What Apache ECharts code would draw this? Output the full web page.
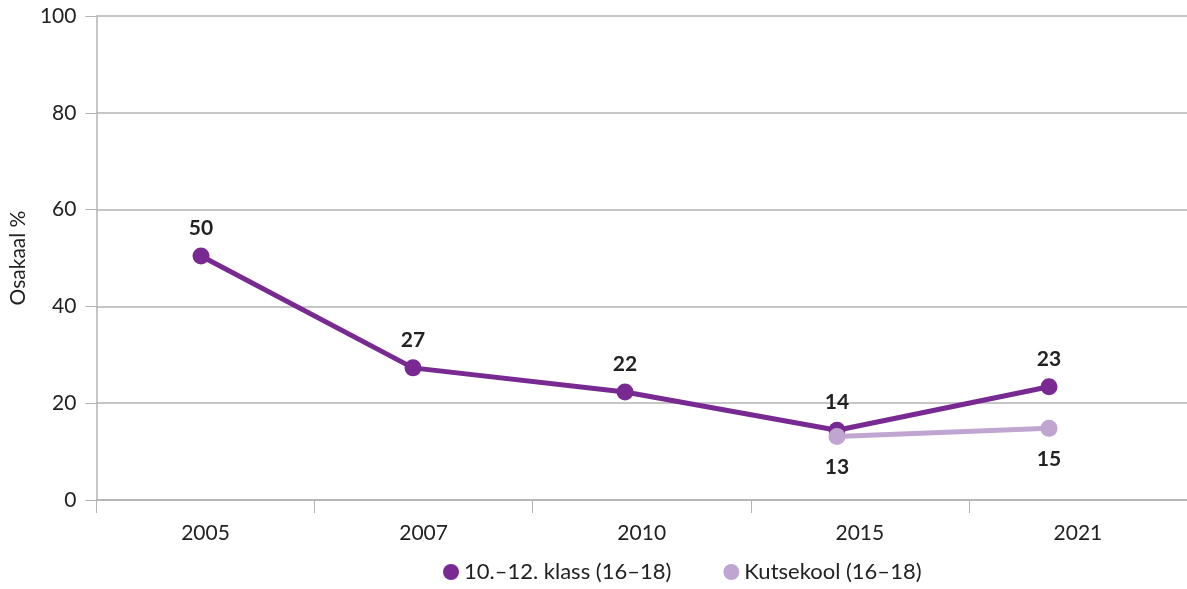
<!DOCTYPE html>
<html>
<head>
<meta charset="utf-8">
<script src="https://cdn.jsdelivr.net/npm/echarts@6/dist/echarts.min.js"></script>
<style>html,body{margin:0;padding:0;background:#fff;}#c{width:1187px;height:589px;}</style>
</head>
<body>
<div id="c"></div>
<script>
const categories = ['2005', '2007', '2010', '2015', '2021'];
const seriesNames = ['10.–12. klass (16–18)', 'Kutsekool (16–18)'];
const klassValues = [50.4, 27.3, 22.3, 14.4, 23.4];
const kutsekoolValues = [null, null, null, 13.1, 14.8];
const yTicks = [0, 20, 40, 60, 80, 100];
const yAxisName = 'Osakaal %';

const dark = '#782a92';
const light = '#c0a5d1';
const textColor = '#222222';
const axisGray = '#b3b3b3';
const FONT = 'Lato';

const chart = echarts.init(document.getElementById('c'), null, {renderer: 'canvas'});
chart.setOption({
  animation: false,
  textStyle: {fontFamily: FONT},
  grid: [
    {left: 96, right: 0, top: 16, bottom: 89},
    {left: 95, right: 32, top: 16, bottom: 89}
  ],
  legend: {
    bottom: 1,
    left: 438,
    icon: 'circle',
    itemWidth: 16,
    itemHeight: 16,
    itemGap: 52,
    textStyle: {fontFamily: FONT, fontSize: 22, color: textColor},
    data: seriesNames
  },
  xAxis: [
    {
      type: 'category', gridIndex: 0, data: categories, boundaryGap: true,
      axisLine: {lineStyle: {color: axisGray, width: 1.5}},
      axisTick: {show: true, length: 13, lineStyle: {color: axisGray, width: 1}},
      axisLabel: {fontFamily: FONT, fontSize: 21, color: textColor, margin: 23}
    },
    {
      type: 'category', gridIndex: 1, data: categories, boundaryGap: true,
      show: false
    }
  ],
  yAxis: [
    {
      type: 'value', gridIndex: 0, min: yTicks[0], max: yTicks[yTicks.length - 1], interval: 20,
      name: yAxisName, nameLocation: 'middle', nameGap: 66, nameRotate: 90,
      nameTextStyle: {fontFamily: FONT, fontSize: 21, color: textColor},
      axisLine: {show: true, lineStyle: {color: axisGray, width: 1.5}},
      axisTick: {show: true, inside: false, length: 11, lineStyle: {color: axisGray, width: 1}},
      axisLabel: {fontFamily: FONT, fontSize: 21, color: textColor, margin: 20},
      splitLine: {lineStyle: {color: axisGray, width: 1.5}}
    },
    {
      type: 'value', gridIndex: 1, min: yTicks[0], max: yTicks[yTicks.length - 1], interval: 20,
      show: false, splitLine: {show: false}
    }
  ],
  series: [
    {
      name: seriesNames[0], type: 'line', xAxisIndex: 1, yAxisIndex: 1,
      data: klassValues,
      symbol: 'circle', symbolSize: 17,
      lineStyle: {color: dark, width: 5},
      itemStyle: {color: dark},
      label: {
        show: true, position: 'top', distance: 9,
        fontFamily: FONT, fontSize: 21, fontWeight: 'bold', color: textColor,
        formatter: p => Math.round(p.value)
      }
    },
    {
      name: seriesNames[1], type: 'line', xAxisIndex: 1, yAxisIndex: 1,
      data: kutsekoolValues,
      symbol: 'circle', symbolSize: 17,
      lineStyle: {color: light, width: 5},
      itemStyle: {color: light},
      label: {
        show: true, position: 'bottom', distance: 12,
        fontFamily: FONT, fontSize: 21, fontWeight: 'bold', color: textColor,
        formatter: p => Math.round(p.value)
      }
    }
  ]
});
</script>
</body>
</html>
